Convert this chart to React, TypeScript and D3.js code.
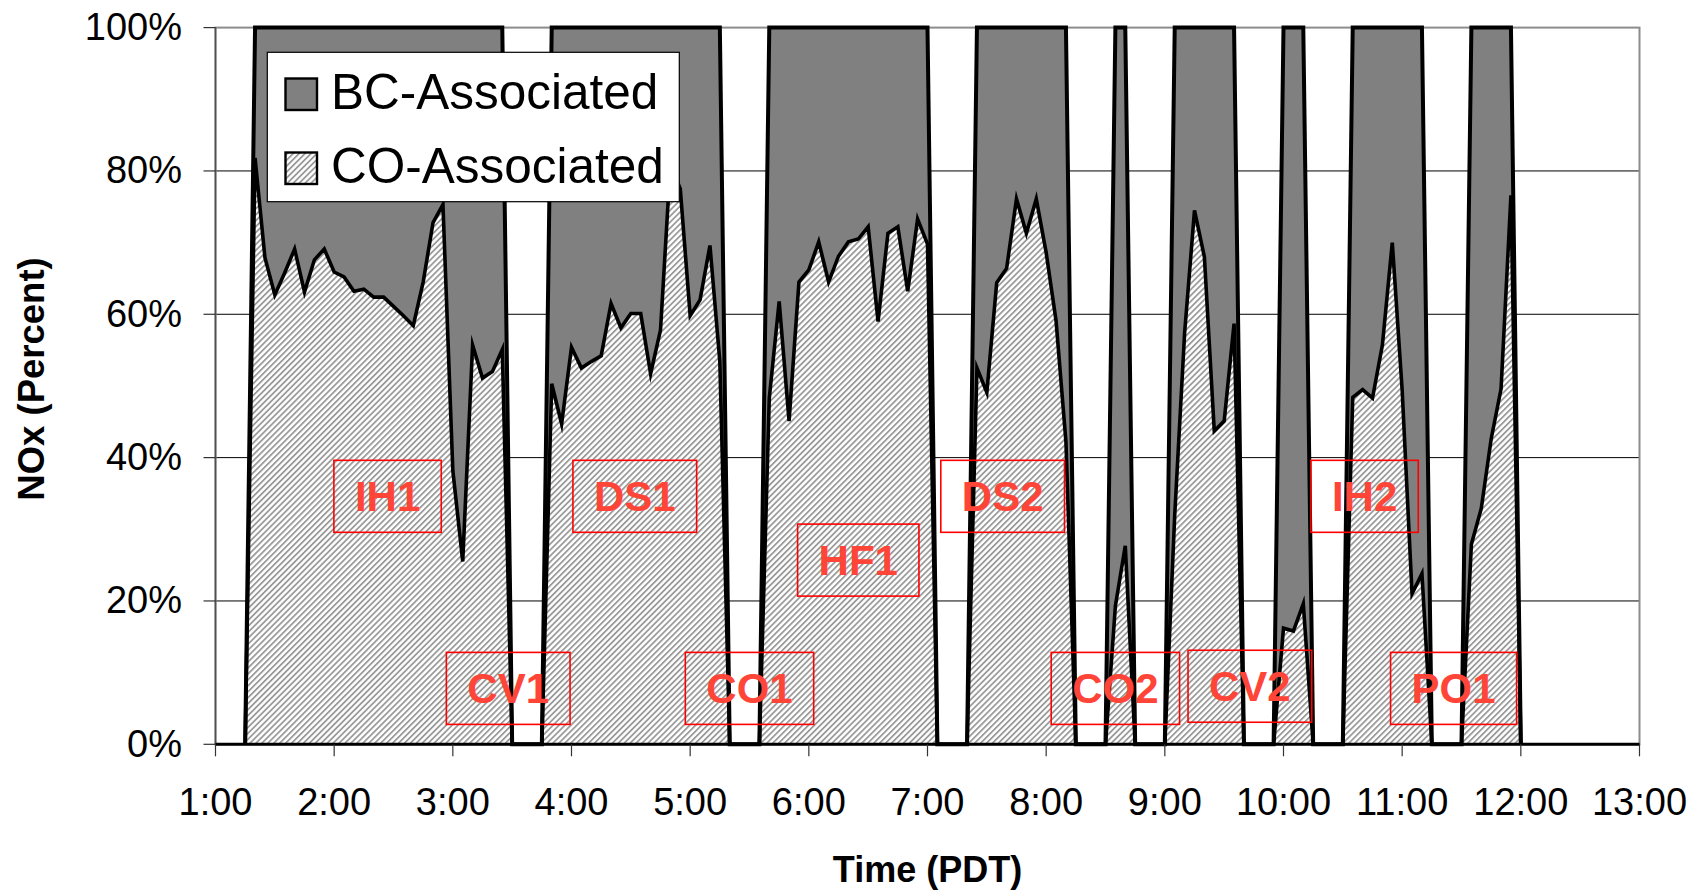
import React, { useEffect, useRef } from "react";
import * as d3 from "d3";

const W = 1694;
const H = 893;

// Sample times (PDT), 5-minute resolution; gap edges carry zero values
const times = [
  "1:15","1:20","1:25","1:30","1:35","1:40","1:45","1:50","1:55","2:00","2:05","2:10","2:15","2:20","2:25","2:30","2:35","2:40","2:45","2:50","2:55","3:00","3:05","3:10","3:15","3:20","3:25","3:30",
  "3:45","3:50","3:55","4:00","4:05","4:10","4:15","4:20","4:25","4:30","4:35","4:40","4:45","4:50","4:55","5:00","5:05","5:10","5:15","5:20",
  "5:35","5:40","5:45","5:50","5:55","6:00","6:05","6:10","6:15","6:20","6:25","6:30","6:35","6:40","6:45","6:50","6:55","7:00","7:05",
  "7:20","7:25","7:30","7:35","7:40","7:45","7:50","7:55","8:00","8:05","8:10","8:15",
  "8:30","8:35","8:40","8:45",
  "9:00","9:05","9:10","9:15","9:20","9:25","9:30","9:35","9:40",
  "9:55","10:00","10:05","10:10","10:15",
  "10:30","10:35","10:40","10:45","10:50","10:55","11:00","11:05","11:10","11:15",
  "11:30","11:35","11:40","11:45","11:50","11:55","12:00",
];

// CO-Associated NOx share (%)
const coAssociated = [
  0,81.8,67.9,62.7,65.8,69.1,63.1,67.6,69.1,65.9,65.2,63.2,63.5,62.4,62.4,61.1,59.8,58.4,64.5,72.8,75.3,38.2,25.5,55.7,51.1,52.0,55.1,0,
  0,50.3,44.7,55.4,52.5,53.4,54.2,61.5,58.1,60.1,60.1,51.7,57.8,81.0,77.5,59.8,62.0,69.6,53.4,0,
  0,48.3,61.8,45.1,64.5,66.2,70.1,64.5,68.1,70.1,70.5,72.2,59.0,71.3,72.2,63.2,73.3,69.8,0,
  0,52.5,49.1,64.4,66.4,76.1,71.3,76.1,68.6,59.1,42.2,0,
  0,19.3,27.7,0,
  0,32.0,57.4,74.5,68.0,43.7,45.1,58.7,0,
  0,16.2,15.8,19.6,0,
  0,48.4,49.5,48.3,55.7,70.0,49.4,21.0,23.8,0,
  0,27.9,32.9,42.6,49.6,76.6,0,
];

// BC-Associated NOx share (%)
const bcAssociated = [
  0,18.2,32.1,37.3,34.2,30.9,36.9,32.4,30.9,34.1,34.8,36.8,36.5,37.6,37.6,38.9,40.2,41.6,35.5,27.2,24.7,61.8,74.5,44.3,48.9,48.0,44.9,0,
  0,49.7,55.3,44.6,47.5,46.6,45.8,38.5,41.9,39.9,39.9,48.3,42.2,19.0,22.5,40.2,38.0,30.4,46.6,0,
  0,51.7,38.2,54.9,35.5,33.8,29.9,35.5,31.9,29.9,29.5,27.8,41.0,28.7,27.8,36.8,26.7,30.2,0,
  0,47.5,50.9,35.6,33.6,23.9,28.7,23.9,31.4,40.9,57.8,0,
  0,80.7,72.3,0,
  0,68.0,42.6,25.5,32.0,56.3,54.9,41.3,0,
  0,83.8,84.2,80.4,0,
  0,51.6,50.5,51.7,44.3,30.0,50.6,79.0,76.2,0,
  0,72.1,67.1,57.4,50.4,23.4,0,
];

const xTickLabels = ["1:00","2:00","3:00","4:00","5:00","6:00","7:00","8:00","9:00","10:00","11:00","12:00","13:00"];
const yTickValues = [0, 20, 40, 60, 80, 100];
const seriesNames = ["BC-Associated", "CO-Associated"];

// Annotation boxes: name, centre time, centre level (%)
const labelNames = ["IH1","DS1","HF1","DS2","IH2","CV1","CO1","CO2","CV2","PO1"];
const labelTimes = ["2:27","4:32","6:25","7:38","10:41","3:28","5:30","8:35","9:43","11:26"];
const labelLevels = [34.6, 34.6, 25.7, 34.6, 34.6, 7.8, 7.8, 7.8, 8.1, 7.8];

function toMin(s: string): number {
  const [h, m] = s.split(":").map(Number);
  return h * 60 + m;
}

export default function App() {
  const ref = useRef<SVGSVGElement>(null);

  useEffect(() => {
    const svg = d3.select(ref.current);
    svg.selectAll("*").remove();
    const font = "'Liberation Sans', Arial, Helvetica, sans-serif";

    const left = 215.5, right = 1639.5, top = 27.6, bottom = 744.3;
    const x = d3.scaleLinear()
      .domain([toMin(xTickLabels[0]), toMin(xTickLabels[xTickLabels.length - 1])])
      .range([left, right]);
    const y = d3.scaleLinear().domain([0, 100]).range([bottom, top]);

    const defs = svg.append("defs");
    const pat = defs.append("pattern")
      .attr("id", "hatch")
      .attr("patternUnits", "userSpaceOnUse")
      .attr("width", 4.2).attr("height", 4.2)
      .attr("patternTransform", "rotate(45)");
    pat.append("rect").attr("width", 4.2).attr("height", 4.2).attr("fill", "#ffffff");
    pat.append("rect").attr("width", 1.8).attr("height", 4.2).attr("fill", "#9a9a9a");

    svg.append("rect").attr("width", W).attr("height", H).attr("fill", "#fff");

    // gridlines
    svg.append("g").selectAll("line")
      .data(yTickValues.filter(v => v > 0 && v < 100))
      .join("line")
      .attr("x1", left).attr("x2", right)
      .attr("y1", d => y(d)).attr("y2", d => y(d))
      .attr("stroke", "#000").attr("stroke-width", 1);

    // plot border
    svg.append("rect")
      .attr("x", left).attr("y", top)
      .attr("width", right - left).attr("height", bottom - top)
      .attr("fill", "none").attr("stroke", "#8c8c8c").attr("stroke-width", 2);

    const rows = times.map((t, i) => ({ t: toMin(t), co: coAssociated[i], bc: bcAssociated[i] }));
    const stacked = d3.stack<any>().keys(["co", "bc"])(rows);
    const area = d3.area<any>()
      .x(d => x(d.data.t))
      .y0(d => y(d[0]))
      .y1(d => y(d[1]));

    // BC (upper) then CO (lower)
    svg.append("path").datum(stacked[1]).attr("d", area as any).attr("fill", "#808080");
    svg.append("path").datum(stacked[0]).attr("d", area as any).attr("fill", "url(#hatch)");

    const lineTop = d3.line<any>().x(d => x(d.data.t)).y(d => y(d[1]));
    svg.append("path").datum(stacked[0]).attr("d", lineTop as any)
      .attr("fill", "none").attr("stroke", "#000").attr("stroke-width", 3.6)
      .attr("stroke-linejoin", "miter").attr("stroke-miterlimit", 6);
    svg.append("path").datum(stacked[1]).attr("d", lineTop as any)
      .attr("fill", "none").attr("stroke", "#000").attr("stroke-width", 4)
      .attr("stroke-linejoin", "miter").attr("stroke-miterlimit", 6);

    // axes
    svg.append("line").attr("x1", left).attr("x2", left).attr("y1", top).attr("y2", bottom)
      .attr("stroke", "#505050").attr("stroke-width", 1.6);
    svg.append("line").attr("x1", left).attr("x2", right).attr("y1", bottom).attr("y2", bottom)
      .attr("stroke", "#000").attr("stroke-width", 3);

    const yg = svg.append("g");
    yTickValues.forEach(v => {
      yg.append("line").attr("x1", left - 12).attr("x2", left).attr("y1", y(v)).attr("y2", y(v))
        .attr("stroke", "#333").attr("stroke-width", 1.2);
      yg.append("text").attr("x", 182).attr("y", y(v) + 12.5)
        .attr("text-anchor", "end").attr("font-family", font).attr("font-size", 38)
        .attr("fill", "#000").text(`${v}%`);
    });
    const xg = svg.append("g");
    xTickLabels.forEach(s => {
      const xv = x(toMin(s));
      xg.append("line").attr("x1", xv).attr("x2", xv).attr("y1", bottom).attr("y2", bottom + 12)
        .attr("stroke", "#333").attr("stroke-width", 1.2);
      xg.append("text").attr("x", xv).attr("y", 815)
        .attr("text-anchor", "middle").attr("font-family", font).attr("font-size", 38)
        .attr("fill", "#000").text(s);
    });

    // axis titles
    svg.append("text").attr("x", (left + right) / 2).attr("y", 882)
      .attr("text-anchor", "middle").attr("font-family", font).attr("font-weight", "bold")
      .attr("font-size", 36).text("Time (PDT)");
    svg.append("text").attr("transform", `translate(44,379) rotate(-90)`)
      .attr("text-anchor", "middle").attr("font-family", font).attr("font-weight", "bold")
      .attr("font-size", 36.5).text("NOx (Percent)");

    // annotation boxes
    labelNames.forEach((name, i) => {
      const cx = x(toMin(labelTimes[i]));
      const cy = y(labelLevels[i]);
      const g = svg.append("g");
      const rect = g.append("rect");
      const t = g.append("text").attr("x", cx).attr("y", cy + 15)
        .attr("text-anchor", "middle").attr("font-family", font).attr("font-weight", "bold")
        .attr("font-size", 42).attr("fill", "#ff4538").text(name);
      const len = (t.node() as SVGTextElement).getComputedTextLength();
      const bw = len + 42, bh = 72;
      rect.attr("x", cx - bw / 2).attr("y", cy - bh / 2).attr("width", bw).attr("height", bh)
        .attr("fill", "none").attr("stroke", "#ff0000").attr("stroke-width", 1.6);
    });

    // legend
    const lg = svg.append("g");
    lg.append("rect").attr("x", 267.3).attr("y", 52.3).attr("width", 412).attr("height", 149.4)
      .attr("fill", "#fff").attr("stroke", "#000").attr("stroke-width", 1.2);
    const fills = ["#808080", "url(#hatch)"];
    seriesNames.forEach((n, i) => {
      const yy = 78.5 + i * 74;
      lg.append("rect").attr("x", 285.5).attr("y", yy).attr("width", 31.5).attr("height", 31.5)
        .attr("fill", fills[i]).attr("stroke", "#000").attr("stroke-width", 2.4);
      lg.append("text").attr("x", 331).attr("y", yy + 30)
        .attr("font-family", font).attr("font-size", 49.5).attr("fill", "#000").text(n);
    });
  }, []);

  return (
    <svg
      ref={ref}
      width={W}
      height={H}
      style={{ position: "absolute", left: 0, top: 0, display: "block", background: "#fff" }}
    />
  );
}
